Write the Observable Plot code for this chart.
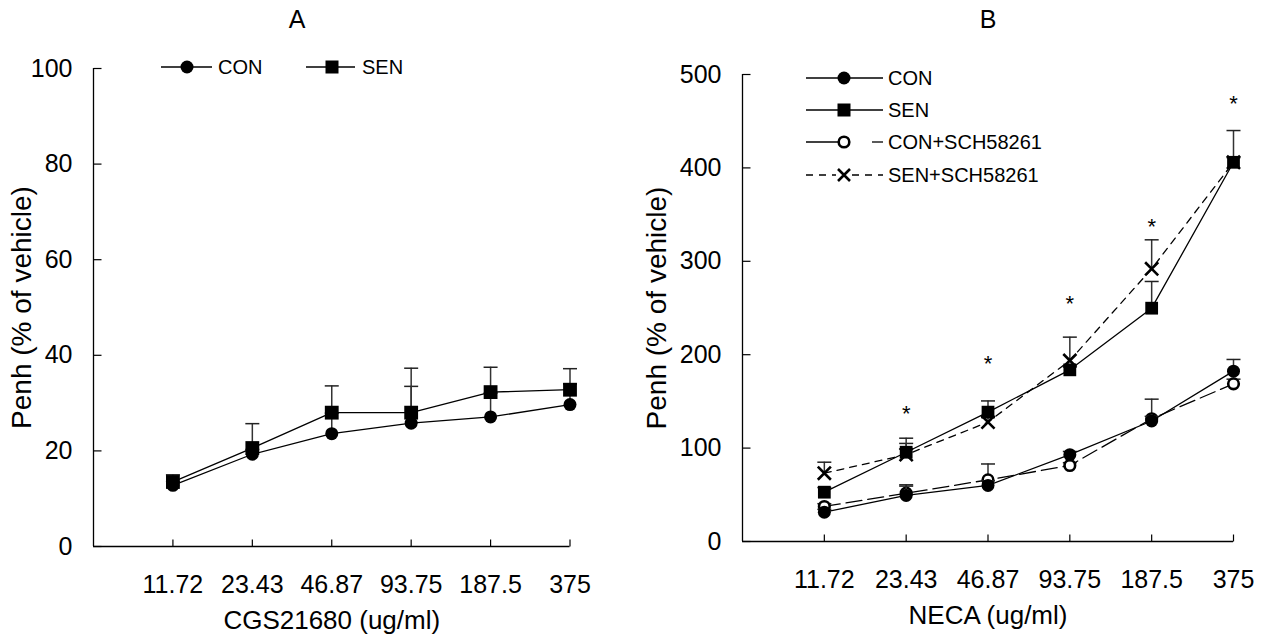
<!DOCTYPE html>
<html><head><meta charset="utf-8">
<script src="https://cdn.jsdelivr.net/npm/d3@7"></script>
<script src="https://cdn.jsdelivr.net/npm/@observablehq/plot@0.6"></script>
<style>
body{margin:0;background:#fff;font-family:"Liberation Sans",Arial,sans-serif;}
#wrap{position:relative;width:1272px;height:641px;overflow:hidden;background:#fff}
.panel{position:absolute;top:0}
svg.leg{position:absolute;left:0;top:0;pointer-events:none}
</style></head><body><div id="wrap"></div>
<script>
// ---- data ----
const doses = ["11.72","23.43","46.87","93.75","187.5","375"];
const yTicksA = [0,20,40,60,80,100];
const yTicksB = [0,100,200,300,400,500];
// Panel A (CGS21680)
const conA    = [12.8,19.3,23.6,25.8,27.1,29.7];
const conAErr = [0.8,1.0,4.3,7.7,5.0,4.3];
const senA    = [13.5,20.6,28.0,28.0,32.3,32.8];
const senAErr = [1.5,5.1,5.6,9.3,5.2,4.4];
// Panel B (NECA)
const conB       = [31.4,49.3,60,93,129,182.4];
const conBErr    = [3,10,5,3.4,5,12.5];
const senB       = [52.8,95.6,138.5,183.8,249.8,406];
const senBErr    = [5,15,12,3,28.6,34];
const conSchB    = [37.5,51.7,66,81.4,131.4,168.8];
const conSchBErr = [3,9,17,3,21,5];
const senSchB    = [73.1,93,127.8,193.8,292,406];
const senSchBErr = [11.8,12,5,25,31,5];
const starsB     = [null,142,195,260,342,474];

const idx = doses.map((d,i)=>i+1);
const rows = (v,e)=>v.map((x,i)=>({i:i+1,v:x,e:e[i]}));

// custom line symbols (ignore size)
const capSym  = {draw(c){c.moveTo(-7,0);c.lineTo(7,0);}};
const yTickSym= {draw(c){c.moveTo(0,0);c.lineTo(8,0);}};
const xTickSym= {draw(c){c.moveTo(0,0);c.lineTo(0,-7);}};

function seriesMarks(r, o){
  return [
    Plot.ruleX(r, {x:"i", y1:"v", y2:d=>d.v+d.e, stroke:"#333", strokeWidth:1.5}),
    Plot.dot(r, {x:"i", y:d=>d.v+d.e, symbol:capSym, r:5, fill:"none", stroke:"#222", strokeWidth:1.5}),
    Plot.line(r, {x:"i", y:"v", stroke:"#000", strokeWidth:1.3, strokeDasharray:o.dash}),
    Plot.dot(r, {x:"i", y:"v", symbol:o.symbol, r:o.r, fill:o.fill, stroke:o.stroke, strokeWidth:o.sw})
  ];
}

function panel({series, yTicks, yMax, width, mL, mR, mT, mB, xLabel, yLabel, yLabOff, extra=[]}){
  return Plot.plot({
    width, height:641, marginLeft:mL, marginRight:mR, marginTop:mT, marginBottom:mB,
    style:{fontFamily:"Liberation Sans, Arial, sans-serif", background:"transparent", overflow:"visible", color:"#000"},
    x:{type:"linear", domain:[0,6]},
    y:{domain:[0,yMax]},
    marks:[
      Plot.ruleX([0], {stroke:"#000", strokeWidth:1.3}),
      Plot.ruleY([0], {stroke:"#000", strokeWidth:1.3}),
      Plot.dot(yTicks, {x:()=>0, y:d=>d, symbol:yTickSym, r:5, fill:"none", stroke:"#000", strokeWidth:1.2}),
      Plot.dot(idx, {x:d=>d, y:()=>0, symbol:xTickSym, r:5, fill:"none", stroke:"#000", strokeWidth:1.2}),
      ...series.flatMap(s=>seriesMarks(s.rows, s)),
      ...extra,
      Plot.axisX({ticks:idx, tickFormat:i=>doses[i-1], tickSize:0, tickPadding:29, fontSize:25, label:null}),
      Plot.axisX({ticks:[], label:xLabel, labelAnchor:"center", labelOffset:82, fontSize:26, labelArrow:"none"}),
      Plot.axisY({ticks:yTicks, tickSize:0, tickPadding:21, fontSize:25, label:null}),
      Plot.axisY({ticks:[], label:yLabel, labelAnchor:"center", labelOffset:yLabOff, fontSize:28, dy:12, labelArrow:"none"})
    ]
  });
}

const wrap = document.getElementById("wrap");

const A = panel({
  width:636, mL:93, mR:66.5, mT:68, mB:95, yMax:100, yTicks:yTicksA,
  xLabel:"CGS21680 (ug/ml)", yLabel:"Penh (% of vehicle)", yLabOff:82,
  series:[
    {rows:rows(conA,conAErr), symbol:"circle", r:6.5, fill:"#000", stroke:"none", sw:0},
    {rows:rows(senA,senAErr), symbol:"square", r:7.8, fill:"#000", stroke:"none", sw:0}
  ]
});
const dA = document.createElement("div"); dA.className="panel"; dA.style.left="0px"; dA.appendChild(A); wrap.appendChild(dA);

const starRows = starsB.map((v,i)=>({i:i+1,v})).filter(d=>d.v!=null);
const B = panel({
  width:636, mL:106, mR:39, mT:74, mB:100, yMax:500, yTicks:yTicksB,
  xLabel:"NECA (ug/ml)", yLabel:"Penh (% of vehicle)", yLabOff:96,
  series:[
    {rows:rows(conSchB,conSchBErr), symbol:"circle", r:5.3, fill:"#fff", stroke:"#000", sw:2.6, dash:"16,6"},
    {rows:rows(senSchB,senSchBErr), symbol:"times", r:6, fill:"none", stroke:"#000", sw:2.6, dash:"7,6"},
    {rows:rows(conB,conBErr), symbol:"circle", r:6.5, fill:"#000", stroke:"none", sw:0},
    {rows:rows(senB,senBErr), symbol:"square", r:7.2, fill:"#000", stroke:"none", sw:0}
  ],
  extra:[Plot.text(starRows, {x:"i", y:"v", text:()=>"*", fontSize:22, dy:5})]
});
const dB = document.createElement("div"); dB.className="panel"; dB.style.left="636px"; dB.appendChild(B); wrap.appendChild(dB);

// overlay: panel titles and legends
const leg = d3.select(wrap).append("svg").attr("class","leg").attr("width",1272).attr("height",641)
  .style("font-family","Liberation Sans, Arial, sans-serif").style("font-size","20px");
const titles = [["A",297],["B",988]];
titles.forEach(([t,x])=>leg.append("text").attr("x",x).attr("y",19).attr("dy","0.35em")
  .attr("text-anchor","middle").style("font-size","25px").text(t));
function legItem(x1,x2,mx,tx,y,label,kind,segs){
  (segs||[[x1,x2]]).forEach(([a,b])=>leg.append("line").attr("x1",a).attr("x2",b).attr("y1",y).attr("y2",y)
     .attr("stroke","#000").attr("stroke-width",1.3).attr("stroke-dasharray",kind==="x"?"7,6":null));
  const g = leg.append("g").attr("transform",`translate(${mx},${y})`);
  if(kind==="circle") g.append("circle").attr("r",6.5).attr("fill","#000");
  if(kind==="square") g.append("rect").attr("x",-6.5).attr("y",-6.5).attr("width",13).attr("height",13).attr("fill","#000");
  if(kind==="open") g.append("circle").attr("r",5.3).attr("fill","#fff").attr("stroke","#000").attr("stroke-width",2.6);
  if(kind==="x") g.append("path").attr("d","M-6,-6L6,6M-6,6L6,-6").attr("stroke","#000").attr("stroke-width",2.6);
  leg.append("text").attr("x",tx).attr("y",y).attr("dy","0.35em").text(label);
}
legItem(161,212,187,218,67,"CON","circle");
legItem(306,355,332,362,67,"SEN","square");
legItem(806,883,844,888,78,"CON","circle");
legItem(806,883,844,888,110,"SEN","square");
legItem(806,883,844,888,142,"CON+SCH58261","open",[[806,842],[872,883]]);
legItem(806,883,844,888,175,"SEN+SCH58261","x",[[806,836],[852,883]]);
</script></body></html>
